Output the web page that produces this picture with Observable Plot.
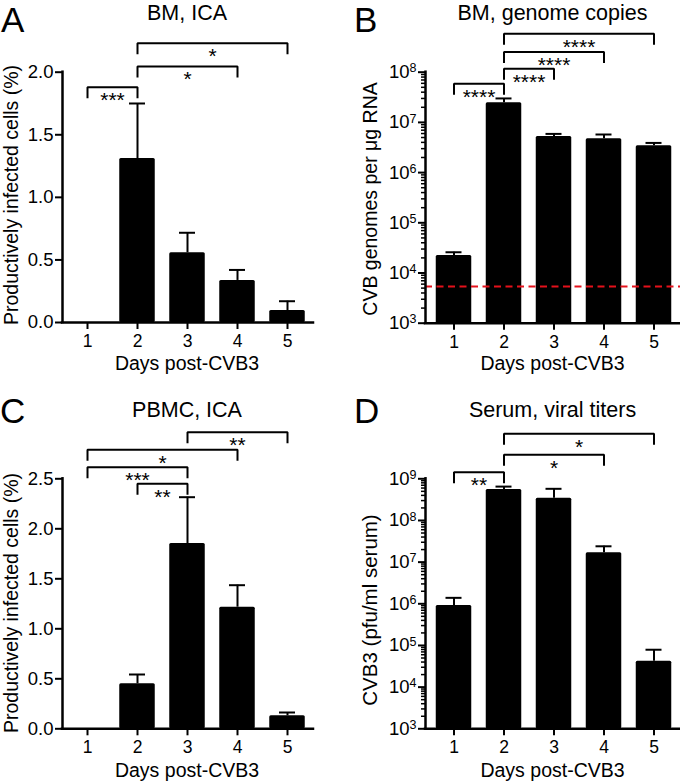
<!DOCTYPE html>
<html><head><meta charset="utf-8">
<script src="https://cdn.jsdelivr.net/npm/d3@7"></script>
<script src="https://cdn.jsdelivr.net/npm/@observablehq/plot@0.6"></script>
<style>
html,body{margin:0;padding:0;background:#fff;}
#fig{position:relative;width:680px;height:783px;overflow:hidden;background:#fff;}
.panel{position:absolute;}
</style></head><body><div id="fig"></div>
<script>
// ---------- data ----------
const days = [1, 2, 3, 4, 5];

// A: BM, ICA (% productively infected cells)
const bmIcaMean  = [0, 1.31, 0.557, 0.336, 0.096];
const bmIcaUpper = [null, 1.75, 0.717, 0.42, 0.17];
const bmIcaTicks = [0, 0.5, 1.0, 1.5, 2.0];
const bmIcaBrackets = [[1, 2, 1.88, "***"], [2, 4, 2.046, "*"], [2, 5, 2.232, "*"]];

// B: BM, genome copies (per µg RNA)
const bmCopiesMean  = [22300, 2.46e7, 5.24e6, 4.7e6, 3.42e6];
const bmCopiesUpper = [25900, 3.0e7, 5.9e6, 5.74e6, 3.9e6];
const bmCopiesTicks = [1e3, 1e4, 1e5, 1e6, 1e7, 1e8];
const bmCopiesLimit = 5380;
const bmCopiesBrackets = [[1, 2, 10 ** 7.769, "****"], [2, 3, 10 ** 8.068, "****"], [2, 4, 10 ** 8.40, "****"], [2, 5, 10 ** 8.765, "****"]];

// C: PBMC, ICA
const pbmcIcaMean  = [0, 0.45, 1.853, 1.216, 0.13];
const pbmcIcaUpper = [null, 0.543, 2.316, 1.436, 0.163];
const pbmcIcaTicks = [0, 0.5, 1.0, 1.5, 2.0, 2.5];
const pbmcIcaBrackets = [[2, 3, 2.45, "**"], [1, 3, 2.616, "***"], [1, 4, 2.79, "*"], [3, 5, 2.966, "**"]];

// D: Serum, viral titers (pfu/ml)
const serumMean  = [9.1e5, 5.53e8, 3.42e8, 1.67e7, 4.2e4];
const serumUpper = [1.39e6, 6.5e8, 5.75e8, 2.4e7, 7.9e4];
const serumTicks = [1e3, 1e4, 1e5, 1e6, 1e7, 1e8, 1e9];
const serumBrackets = [[1, 2, 10 ** 9.158, "**"], [2, 4, 10 ** 9.576, "*"], [2, 5, 10 ** 10.08, "*"]];

const FONT = "'Liberation Sans', Arial, Helvetica, sans-serif";

function panel(cfg) {
  const {W, H, mL, mR, mT, mB, xDomain, yDomain, log} = cfg;
  const data = days.map((d, i) => ({day: d, mean: cfg.mean[i], upper: cfg.upper[i]}));
  const base = yDomain[0];
  const yMirror = (log ? d3.scaleLog() : d3.scaleLinear()).domain(yDomain).range([H - mB, mT]);
  const legDrop = 11;
  const brs = cfg.brackets.map(([a, b, lvl, lab], k) => ({k, a, b, lvl, lab, leg: yMirror.invert(yMirror(lvl) + legDrop)}));
  const bracketPts = brs.flatMap(d => [
    {id: d.k, x: d.a, y: d.leg}, {id: d.k, x: d.a, y: d.lvl},
    {id: d.k, x: d.b, y: d.lvl}, {id: d.k, x: d.b, y: d.leg}
  ]);
  const bars = data.filter(d => d.mean > base);
  const errs = data.filter(d => d.upper != null);

  const marks = [
    Plot.rect(bars, {x1: d => d.day - 0.355, x2: d => d.day + 0.355, y1: base, y2: "mean", fill: "black", rx: 1.5}),
    Plot.ruleX(errs, {x: "day", y1: "mean", y2: "upper", stroke: "black", strokeWidth: 2}),
    Plot.ruleY(errs, {x1: d => d.day - 0.16, x2: d => d.day + 0.16, y: "upper", stroke: "black", strokeWidth: 2})
  ];
  if (cfg.limit != null) {
    marks.push(Plot.ruleY([cfg.limit], {stroke: "#e4111b", strokeWidth: 2.2, strokeDasharray: "7,4.5"}));
  }
  marks.push(
    Plot.ruleX([xDomain[0]], {y1: yDomain[0], y2: yDomain[1], stroke: "black", strokeWidth: 2.5, strokeLinecap: "square"}),
    Plot.ruleY([yDomain[0]], {stroke: "black", strokeWidth: 2.5, strokeLinecap: "square"}),
    Plot.axisX({ticks: days, tickSize: 7, tickPadding: 5, tickFormat: d => String(d), fontSize: 17.5, strokeWidth: 2, label: null}),
    Plot.axisY({ticks: cfg.ticks, tickSize: 7, tickPadding: 2, tickFormat: cfg.fmt, fontSize: 18.5, strokeWidth: 2, label: null})
  );
  if (log) {
    const minor = [];
    for (let i = 0; i < cfg.ticks.length - 1; i++) for (let m = 2; m <= 9; m++) minor.push(cfg.ticks[i] * m);
    marks.push(Plot.axisY({ticks: minor, tickSize: 4, tickFormat: () => "", strokeWidth: 1.5, label: null}));
  }
  marks.push(
    Plot.line(bracketPts, {x: "x", y: "y", z: "id", stroke: "black", strokeWidth: 2, strokeLinejoin: "miter", strokeLinecap: "butt"}),
    Plot.text(brs, {x: d => (d.a + d.b) / 2, y: "lvl", text: "lab", fontSize: 21, dy: 13, lineAnchor: "middle", fill: "black"})
  );

  const svg = Plot.plot({
    width: W, height: H,
    marginLeft: mL, marginRight: mR, marginTop: mT, marginBottom: mB,
    style: {fontFamily: FONT, color: "black", background: "white", overflow: "visible"},
    x: {type: "linear", domain: xDomain},
    y: {type: log ? "log" : "linear", domain: yDomain},
    marks
  });
  const s = d3.select(svg);
  // superscript exponents for log tick labels
  s.selectAll("text").each(function () {
    if (this.childElementCount) return;
    const t = this.textContent;
    if (t && t.includes("^")) {
      const [b, e] = t.split("^");
      const sel = d3.select(this);
      sel.text(null);
      sel.append("tspan").text(b);
      sel.append("tspan").attr("font-size", "12.5px").attr("dy", "-0.45em").text(e);
    }
  });
  const addText = (x, y, txt, size, anchor = "middle", rotate = false) => {
    s.append("text")
      .attr("transform", rotate ? `translate(${x},${y}) rotate(-90)` : `translate(${x},${y})`)
      .attr("text-anchor", anchor)
      .attr("font-family", FONT)
      .attr("font-size", size)
      .attr("fill", "black")
      .text(txt);
  };
  addText(cfg.letter[1], cfg.letter[2], cfg.letter[0], 35, "start");
  addText(cfg.title[1], cfg.title[2], cfg.title[0], 21.5);
  addText(cfg.ylabel[1], cfg.ylabel[2], cfg.ylabel[0], cfg.ylabel[3] || 19.5, "middle", true);
  addText(cfg.xlabel[1], cfg.xlabel[2], cfg.xlabel[0], 19.5);
  return svg;
}

const fmt1 = d3.format(".1f");
const fmtExp = d => "10^" + Math.round(Math.log10(d));

const panels = [
  {left: 0, top: 0, W: 340, H: 390, mL: 62, mR: 27, mT: 71.7, mB: 68,
   xDomain: [0.5, 5.52], yDomain: [0, 2], log: false, ticks: bmIcaTicks, fmt: fmt1,
   mean: bmIcaMean, upper: bmIcaUpper, brackets: bmIcaBrackets,
   letter: ["A", 1, 32], title: ["BM, ICA", 187, 20],
   ylabel: ["Productively infected cells (%)", 17.8, 195], xlabel: ["Days post-CVB3", 187, 369.5]},
  {left: 340, top: 0, W: 340, H: 390, mL: 85, mR: 0, mT: 71.7, mB: 67.3,
   xDomain: [0.43, 5.53], yDomain: [1e3, 1e8], log: true, ticks: bmCopiesTicks, fmt: fmtExp,
   mean: bmCopiesMean, upper: bmCopiesUpper, brackets: bmCopiesBrackets, limit: bmCopiesLimit,
   letter: ["B", 14, 32], title: ["BM, genome copies", 212.5, 20],
   ylabel: ["CVB genomes per μg RNA", 37, 199], xlabel: ["Days post-CVB3", 212.5, 370]},
  {left: 0, top: 390, W: 340, H: 393, mL: 62, mR: 27, mT: 88.3, mB: 54.7,
   xDomain: [0.5, 5.52], yDomain: [0, 2.5], log: false, ticks: pbmcIcaTicks, fmt: fmt1,
   mean: pbmcIcaMean, upper: pbmcIcaUpper, brackets: pbmcIcaBrackets,
   letter: ["C", 0, 33.3], title: ["PBMC, ICA", 187, 27],
   ylabel: ["Productively infected cells (%)", 17.8, 213], xlabel: ["Days post-CVB3", 187, 386.5]},
  {left: 340, top: 390, W: 340, H: 393, mL: 85, mR: 0, mT: 88.3, mB: 54.7,
   xDomain: [0.43, 5.53], yDomain: [1e3, 1e9], log: true, ticks: serumTicks, fmt: fmtExp,
   mean: serumMean, upper: serumUpper, brackets: serumBrackets,
   letter: ["D", 14, 33.3], title: ["Serum, viral titers", 212.5, 27],
   ylabel: ["CVB3 (pfu/ml serum)", 37, 220, 20.5], xlabel: ["Days post-CVB3", 212.5, 386.5]}
];

const fig = document.getElementById("fig");
for (const p of panels) {
  const div = document.createElement("div");
  div.className = "panel";
  div.style.left = p.left + "px";
  div.style.top = p.top + "px";
  div.style.width = p.W + "px";
  div.style.height = p.H + "px";
  div.appendChild(panel(p));
  fig.appendChild(div);
}
</script></body></html>
